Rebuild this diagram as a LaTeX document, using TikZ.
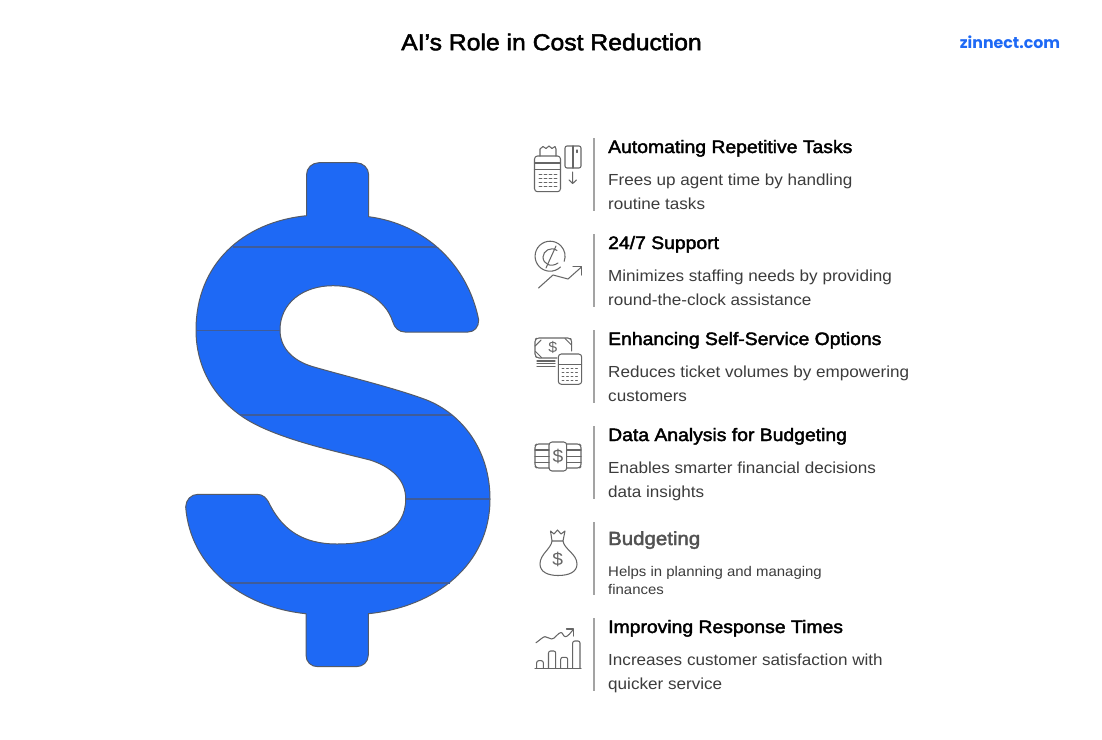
\documentclass[tikz,border=0pt]{standalone}
\usepackage{fontspec}
\setmainfont{Liberation Sans}
\newfontfamily\logofont{Poppins}
\newfontfamily\bodyf[FakeStretch=1.068]{Liberation Sans}
\newfontfamily\headf[FakeStretch=1.075,FakeBold=2.2]{Liberation Sans}
\definecolor{dblue}{HTML}{1E69F5}
\definecolor{dline}{HTML}{555B66}
\definecolor{hline}{HTML}{3F5C99}
\definecolor{icon}{HTML}{666666}
\definecolor{sep}{HTML}{A3A3A3}
\definecolor{bodyc}{HTML}{3C3C3C}
\tikzset{
  x=1pt,y=-1pt,
  heading/.style={anchor=base west,inner sep=0pt,font=\headf\fontsize{18}{20}\selectfont,text=black},
  bodytext/.style={anchor=base west,inner sep=0pt,font=\bodyf\fontsize{16}{18}\selectfont,text=bodyc},
  smalltext/.style={anchor=base west,inner sep=0pt,font=\bodyf\fontsize{14}{16}\selectfont,text=bodyc},
  sepline/.style={draw=sep,line width=2pt},
  ic/.style={draw=icon,line width=1.05pt,line cap=round,line join=round,fill=none},
  dollar/.style={inner sep=0pt,text=icon,font=\bodyf\fontsize{15}{16}\selectfont},
}
\begin{document}
\begin{tikzpicture}
\useasboundingbox (0,0) rectangle (1102,739);
\fill[white] (0,0) rectangle (1102,739);
\node[inner sep=0pt,font=\headf\fontsize{23}{24}\selectfont] (title) at (551.5,42) {AI’s Role in Cost Reduction};
\node[inner sep=0pt,text=dblue,font=\logofont\fontsize{15.8}{18}\selectfont\bfseries] (logo) at (1010,42.5) {zinnect.com};
% dollar
\path[fill=dblue,draw=dline,line width=1pt,line join=round]
 (306.5,215.7) .. controls (243,222) and (196,264) .. (196,330)
 .. controls (196,365) and (212,395) .. (240,415)
 .. controls (270,437) and (330,450) .. (370,460)
 .. controls (392,467) and (405.7,480) .. (405.7,499)
 .. controls (405.7,530) and (378,544) .. (337,544)
 .. controls (303,544) and (283,530) .. (270,505)
 .. controls (267,498) and (263,494.3) .. (257,494.3)
 -- (198,494.3) .. controls (191,494.3) and (185.7,500) .. (185.7,507)
 .. controls (190,565) and (240,607) .. (306,613.7)
 -- (306,655) .. controls (306,662) and (311,666.7) .. (318,666.7)
 -- (356,666.7) .. controls (363,666.7) and (368.3,662) .. (368.3,655)
 -- (368.3,613.7) .. controls (435,607) and (490,565) .. (490,499)
 .. controls (490,450) and (462,414) .. (426.7,400)
 .. controls (395,388) and (345,376) .. (313,366.7)
 .. controls (293,360.9) and (280,348) .. (280,330)
 .. controls (280,303) and (303,285.7) .. (333,285.7)
 .. controls (362,285.7) and (386,300) .. (392.7,321.7)
 .. controls (394.5,328) and (399,332) .. (405,332)
 -- (468,332) .. controls (474.5,332) and (478.7,327) .. (478.7,320)
 .. controls (468,265) and (425,224) .. (368.7,216.7)
 -- (368.7,175) .. controls (368.7,168) and (363,162.7) .. (356,162.7)
 -- (319,162.7) .. controls (312,162.7) and (306.5,168) .. (306.5,175) -- cycle;
\foreach \ya/\xa/\xb in {247/233/437,330.5/196/280,415/240/452,499/405.7/490,583/227/450}
  \draw[draw=hline,line width=1.3pt] (\xa,\ya) -- (\xb,\ya);
% separators
\foreach \ya in {138,234,330,426,522,618}
  \draw[sepline] (594,\ya) -- (594,\ya+73);
% texts
\node[heading] (h1) at (608,153) {Automating Repetitive Tasks};
\node[bodytext] (b1a) at (608,185) {Frees up agent time by handling};
\node[bodytext] (b1b) at (608,209) {routine tasks};
\node[heading] (h2) at (608,249) {24/7 Support};
\node[bodytext] (b2a) at (608,281) {Minimizes staffing needs by providing};
\node[bodytext] (b2b) at (608,305) {round-the-clock assistance};
\node[heading] (h3) at (608,345) {Enhancing Self-Service Options};
\node[bodytext] (b3a) at (608,377) {Reduces ticket volumes by empowering};
\node[bodytext] (b3b) at (608,401) {customers};
\node[heading] (h4) at (608,441) {Data Analysis for Budgeting};
\node[bodytext] (b4a) at (608,473) {Enables smarter financial decisions};
\node[bodytext] (b4b) at (608,497) {data insights};
\node[heading,text=icon!80!black,font=\headf\fontsize{19}{20}\selectfont] (h5) at (608,545) {Budgeting};
\node[smalltext] (b5a) at (608,576) {Helps in planning and managing};
\node[smalltext] (b5b) at (608,594) {finances};
\node[heading] (h6) at (608,633) {Improving Response Times};
\node[bodytext] (b6a) at (608,665) {Increases customer satisfaction with};
\node[bodytext] (b6b) at (608,689) {quicker service};
% icon 1
\draw[ic,rounded corners=3pt] (534.5,156) rectangle (560.5,191.7);
\draw[ic] (534.5,163) -- (560.5,163) (534.5,169.5) -- (560.5,169.5);
\draw[ic] (540,156) -- (540,149) -- (543,146.5) -- (546,148.5) -- (549,146) -- (552,148.5) -- (555,146.5) -- (556,149) -- (556,156);
\foreach \xx in {539,544,549,554}{\foreach \yy in {174,178,182,186}\draw[ic,line width=0.8pt] (\xx,\yy) -- ++(3,0);}
\draw[ic,rounded corners=2pt] (565,146) rectangle (581,168);
\draw[ic] (573,146) -- (573,168) (577,150) -- (577,152.5);
\draw[ic] (572.7,172) -- (572.7,183.5) (569,180) -- (572.7,183.5) -- (576.4,180);
% icon 2
\draw[ic] (560.5,267) arc[start angle=46,end angle=380,radius=15];
\draw[ic] (557,250.5) .. controls (551,246) and (543,251) .. (543,257) .. controls (543,264) and (551,268) .. (558,263);
\draw[ic] (556,246) -- (546,268);
\draw[ic] (538.5,288) -- (553,275) -- (568,279) -- (581.5,267);
\draw[ic] (573,266.7) -- (581.7,266.7) -- (581.7,275);
% icon 3
\draw[ic,rounded corners=2pt] (557,358) -- (537,358) -- (535,356) -- (535,339.5) -- (537,338) -- (570,338) -- (571.7,340) -- (571.7,351);
\draw[ic] (535,346) -- (541,340) (565,338.5) -- (571.5,345) (535.5,351.5) -- (541.5,357.5);
\node[dollar] (d3) at (552.7,347.7) {\$};
\draw[ic] (537,361) -- (555,361) (537,363.7) -- (555,363.7) (537,366.4) -- (555,366.4);
\draw[ic,rounded corners=3pt] (558.3,354) rectangle (581.7,384.3);
\draw[ic] (558.3,364.3) -- (581.7,364.3);
\foreach \xx in {562,566.5,571,575.5}{\foreach \yy in {368.5,372.5,376.5,380}\draw[ic,line width=0.8pt] (\xx,\yy) -- ++(2,0);}
% icon 4
\draw[ic,rounded corners=2pt] (549,444) -- (536.5,444) -- (535,445.5) -- (535,466.5) -- (536.5,468) -- (549,468);
\draw[ic,rounded corners=2pt] (566.7,444) -- (579.5,444) -- (581,445.5) -- (581,466.5) -- (579.5,468) -- (566.7,468);
\draw[ic,rounded corners=3pt] (549,442) rectangle (566.7,471);
\draw[ic] (535,450) -- (549,450) (535,456.5) -- (549,456.5) (535,462.5) -- (549,462.5);
\draw[ic] (566.7,450) -- (581,450) (566.7,456.5) -- (581,456.5) (566.7,462.5) -- (581,462.5);
\node[dollar,font=\bodyf\fontsize{18}{18}\selectfont] (d4) at (558,456.5) {\$};
% icon 5
\draw[ic] (550.5,531) -- (554,534) -- (557.5,530) -- (561,534) -- (565,531) -- (563,541) -- (552,541) -- cycle;
\draw[ic] (552,541) .. controls (551,549) and (540,554) .. (540,564) .. controls (540,572) and (548,575.5) .. (558,575.5) .. controls (569,575.5) and (577,572) .. (577,564) .. controls (577,554) and (564,549) .. (563,541);
\node[dollar,font=\bodyf\fontsize{18}{18}\selectfont] (d5) at (557.7,559.5) {\$};
% icon 6
\draw[ic] (535,668.3) -- (581,668.3);
\draw[ic,rounded corners=2pt] (536.7,668.3) -- (536.7,660.7) -- (543.3,660.7) -- (543.3,668.3);
\draw[ic,rounded corners=2pt] (548.5,668.3) -- (548.5,651) -- (555.7,651) -- (555.7,668.3);
\draw[ic,rounded corners=2pt] (560.7,668.3) -- (560.7,657.3) -- (567.7,657.3) -- (567.7,668.3);
\draw[ic,rounded corners=2pt] (572.7,668.3) -- (572.7,641) -- (580,641) -- (580,668.3);
\draw[ic] (536,642.7) .. controls (540,640) and (543,636.7) .. (545,636.7) .. controls (548,636.7) and (549,639) .. (551.7,639) .. controls (555,639) and (558,632.5) .. (561,632.5) .. controls (563,632.5) and (563,636.7) .. (565.5,636.7) .. controls (568,636.7) and (571,632) .. (573.3,629.5);
\draw[ic] (566.5,629) -- (573.5,629) -- (573.5,636);
\end{tikzpicture}
\end{document}
